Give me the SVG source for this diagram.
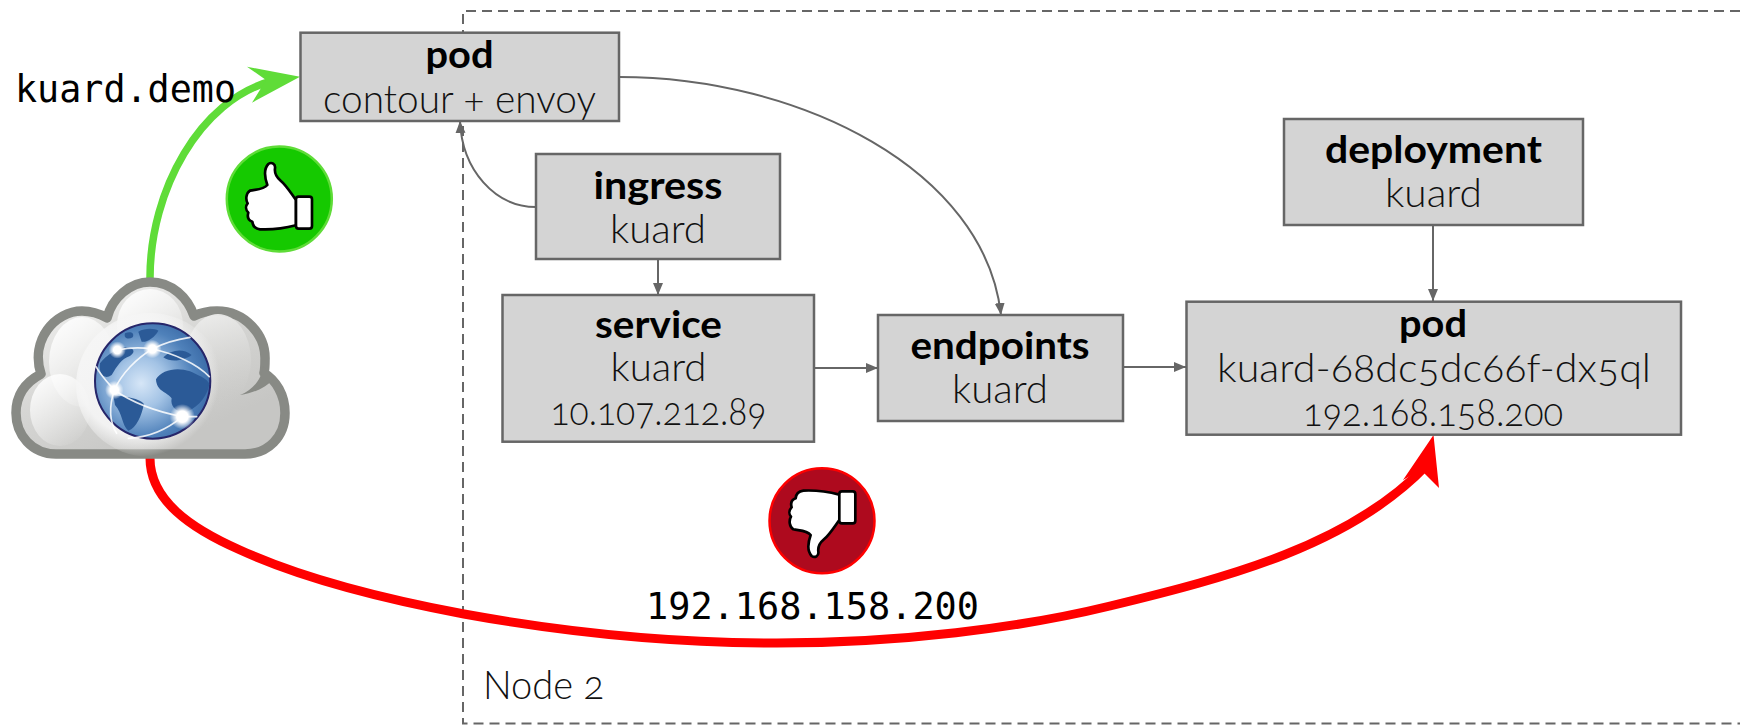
<svg xmlns="http://www.w3.org/2000/svg" width="1740" height="725" viewBox="0 0 1740 725">
<style>
.box{fill:#d4d4d4;stroke:#666;stroke-width:2.5}
.t{font-family:"Lato","Liberation Sans",sans-serif;font-size:40px;font-weight:300;fill:#111;text-anchor:middle;font-variant-numeric:oldstyle-nums}
.b{font-size:38px;font-weight:700;fill:#000}
.m{font-family:"DejaVu Sans Mono","Liberation Mono",monospace;font-size:37px;fill:#000}
.thin{fill:none;stroke:#666;stroke-width:2}
.net{fill:none;stroke:#fff;stroke-opacity:.85;stroke-width:5;stroke-linecap:round}
.land{fill:#2b5a97}
</style>
<defs>
<marker id="ah" markerUnits="userSpaceOnUse" markerWidth="13" markerHeight="12" refX="12" refY="5" orient="auto"><path d="M0,0L12,5L0,10Z" fill="#666"/></marker>
<linearGradient id="cloudFill" x1="0.1" y1="0" x2="0.7" y2="0.85"><stop offset="0" stop-color="#f4f4f3"/><stop offset=".55" stop-color="#d6d6d4"/><stop offset="1" stop-color="#c6c6c4"/></linearGradient>
<linearGradient id="lobe" x1="0.2" y1="0" x2="0.8" y2="1"><stop offset="0" stop-color="#fff" stop-opacity=".9"/><stop offset="1" stop-color="#fff" stop-opacity="0"/></linearGradient>
<linearGradient id="lobeR" x1="0.3" y1="0" x2="0.5" y2="1"><stop offset="0" stop-color="#ececeb"/><stop offset="1" stop-color="#d0d0ce" stop-opacity="0"/></linearGradient>
<radialGradient id="halo" cx=".42" cy=".45" r=".55"><stop offset=".72" stop-color="#f6f6f6" stop-opacity=".9"/><stop offset="1" stop-color="#f6f6f6" stop-opacity="0"/></radialGradient>
<radialGradient id="sea" cx=".4" cy=".52" r=".62"><stop offset="0" stop-color="#d6e6f7"/><stop offset=".35" stop-color="#a3c3e5"/><stop offset=".75" stop-color="#4f81ba"/><stop offset="1" stop-color="#3a6aa6"/></radialGradient>
<radialGradient id="glow"><stop offset=".45" stop-color="#fff"/><stop offset="1" stop-color="#fff" stop-opacity="0"/></radialGradient>
<g id="thumb"><path d="M175,72C185,65 197,72 195,85C193,100 200,112 212,122C228,135 240,155 258,180L258,256C235,262 190,270 150,268C135,266 128,258 127,245C113,240 112,228 115,218C107,210 106,198 113,190C106,178 108,160 120,152C135,148 160,150 172,135C165,115 158,90 175,72Z" fill="#fff" stroke="#000" stroke-width="8" stroke-linejoin="round"/><rect x="258" y="170" width="48" height="96" rx="8" fill="#fff" stroke="#000" stroke-width="8"/></g>
</defs>
<rect width="1740" height="725" fill="#fff"/>
<path id="node2-frame" d="M1740,11H463V723.5H1740" fill="none" stroke="#666" stroke-width="2" stroke-dasharray="10 6"/>
<g id="connectors">
<path class="thin" marker-end="url(#ah)" d="M619,77C800,77 985,170 1001,315"/>
<path class="thin" marker-end="url(#ah)" d="M536,207C495,207 462,170 460,121"/>
<path class="thin" marker-end="url(#ah)" d="M658,259V295"/>
<path class="thin" marker-end="url(#ah)" d="M814,368H878"/>
<path class="thin" marker-end="url(#ah)" d="M1123,367H1186"/>
<path class="thin" marker-end="url(#ah)" d="M1433,225V301"/>
<path d="M150,278C150,190 200,100 272,81" fill="none" stroke="#5fdc38" stroke-width="7.5"/>
<path d="M300,76.7L247,66.7L266,80L252,102.7Z" fill="#5fdc38"/>
<path d="M150,458C150,500 190,528 240,550C310,582 400,602 464,614C580,635 690,643 777,643C900,643 1020,628 1110,606C1230,577 1350,545 1426,466" fill="none" stroke="#f00" stroke-width="9"/>
<path d="M1433.5,435L1403,480L1421,470L1439,488Z" fill="#f00"/>
</g>
<g id="cloud">
<path d="M56,454C32,454 16,435 16,413C16,395 26,382 41,374C30,340 55,311 82,311C92,311 100,314 107,318C112,298 130,282 150,282C172,282 188,298 194,316C200,313 208,311 217,311C245,311 266,335 265,360C265,364 265,369 264,373C276,380 285,395 285,413C285,437 268,454 245,454Z" fill="url(#cloudFill)" stroke="#888a85" stroke-width="9.5" stroke-linejoin="round"/>
<path d="M263,366C262,380 252,390 240,395C255,393 266,387 274,379Z" fill="#888a85"/>
<ellipse cx="82" cy="362" rx="33" ry="45" fill="url(#lobe)"/>
<ellipse cx="60" cy="410" rx="30" ry="36" fill="url(#lobe)"/>
<ellipse cx="150" cy="325" rx="33" ry="36" fill="url(#lobe)"/>
<ellipse cx="218" cy="360" rx="33" ry="46" fill="url(#lobeR)"/>
<ellipse cx="150" cy="385" rx="74" ry="72" fill="url(#halo)"/>
<g id="globe" transform="translate(0,260) scale(.3333)">
<circle cx="458" cy="363" r="173" fill="url(#sea)" stroke="#26266a" stroke-width="6"/>
<path class="land" d="M468,358C485,330 530,320 570,334C592,345 622,355 628,372C625,400 600,440 560,455C530,460 510,440 515,415C500,395 470,395 468,358Z"/>
<path class="land" d="M340,405C375,410 420,415 432,432C425,465 410,505 385,512C365,495 368,460 345,435Z"/>
<path class="land" d="M300,310C320,285 345,270 375,262C400,262 410,275 390,288C365,295 350,320 335,345C315,360 295,345 300,310Z"/>
<path class="land" d="M415,215C435,203 465,205 475,212C465,232 440,248 425,245Z"/>
<path class="land" d="M490,292C515,268 550,265 575,285C555,300 515,310 490,292Z"/>
<path class="land" d="M375,220C390,213 405,218 398,232C385,240 370,235 375,220Z"/>
<path class="net" d="M352,270C390,262 425,262 457,267"/>
<path class="net" d="M457,267C410,295 365,340 343,390C330,430 325,480 350,520"/>
<path class="net" d="M343,390C400,430 470,455 547,470"/>
<path class="net" d="M547,470C500,510 450,532 385,535"/>
<path class="net" d="M457,267C520,280 590,310 628,350"/>
<path class="net" d="M457,267C490,250 530,238 570,232"/>
<path class="net" d="M288,320C305,350 325,370 343,390"/>
<path class="net" d="M590,470C570,470 560,470 547,470"/>
<circle cx="352" cy="270" r="26" fill="url(#glow)"/>
<circle cx="457" cy="267" r="28" fill="url(#glow)"/>
<circle cx="343" cy="390" r="28" fill="url(#glow)"/>
<circle cx="547" cy="470" r="38" fill="url(#glow)"/>
</g>
</g>
<g id="thumbs-up">
<circle cx="279.3" cy="199" r="52.5" fill="#15c900" stroke="#5fdc38" stroke-width="2.5"/>
<use href="#thumb" transform="translate(210,140) scale(.3333)"/>
</g>
<g id="thumbs-down">
<circle cx="822" cy="520.8" r="52.5" fill="#ae0a1e" stroke="#f00" stroke-width="2.5"/>
<use href="#thumb" transform="translate(750,455) scale(.3333) translate(10,375) scale(1,-1)"/>
</g>
<g id="pod-contour">
<rect class="box" x="300.5" y="32.7" width="318.5" height="88.3"/>
<text class="t b" x="459.5" y="68" textLength="68" lengthAdjust="spacingAndGlyphs">pod</text>
<text class="t" x="459.5" y="113" textLength="273" lengthAdjust="spacingAndGlyphs">contour + envoy</text>
</g>
<g id="ingress">
<rect class="box" x="536" y="154" width="244" height="105"/>
<text class="t b" x="658" y="199" textLength="129" lengthAdjust="spacingAndGlyphs">ingress</text>
<text class="t" x="658" y="243" textLength="96" lengthAdjust="spacingAndGlyphs">kuard</text>
</g>
<g id="service">
<rect class="box" x="502.5" y="295" width="311.5" height="146.7"/>
<text class="t b" x="658.5" y="338" textLength="127" lengthAdjust="spacingAndGlyphs">service</text>
<text class="t" x="658.5" y="381" textLength="96" lengthAdjust="spacingAndGlyphs">kuard</text>
<text class="t" x="658.5" y="425" textLength="216" lengthAdjust="spacingAndGlyphs">10.107.212.89</text>
</g>
<g id="endpoints">
<rect class="box" x="878" y="315" width="245" height="106"/>
<text class="t b" x="1000" y="359" textLength="179" lengthAdjust="spacingAndGlyphs">endpoints</text>
<text class="t" x="1000" y="403" textLength="96" lengthAdjust="spacingAndGlyphs">kuard</text>
</g>
<g id="deployment">
<rect class="box" x="1284" y="119" width="299" height="106"/>
<text class="t b" x="1433.5" y="163" textLength="217" lengthAdjust="spacingAndGlyphs">deployment</text>
<text class="t" x="1433.5" y="207" textLength="97" lengthAdjust="spacingAndGlyphs">kuard</text>
</g>
<g id="pod-kuard">
<rect class="box" x="1186.5" y="301.7" width="494.5" height="133"/>
<text class="t b" x="1433" y="337" textLength="68" lengthAdjust="spacingAndGlyphs">pod</text>
<text class="t" x="1434" y="382" textLength="434" lengthAdjust="spacingAndGlyphs">kuard-68dc5dc66f-dx5ql</text>
<text class="t" x="1433" y="426" textLength="260" lengthAdjust="spacingAndGlyphs">192.168.158.200</text>
</g>
<text class="m" x="15" y="102" textLength="221" lengthAdjust="spacingAndGlyphs">kuard.demo</text>
<text class="m" x="646" y="619" textLength="333" lengthAdjust="spacingAndGlyphs">192.168.158.200</text>
<text class="t" x="483" y="699" style="text-anchor:start" textLength="121" lengthAdjust="spacingAndGlyphs">Node 2</text>
</svg>
